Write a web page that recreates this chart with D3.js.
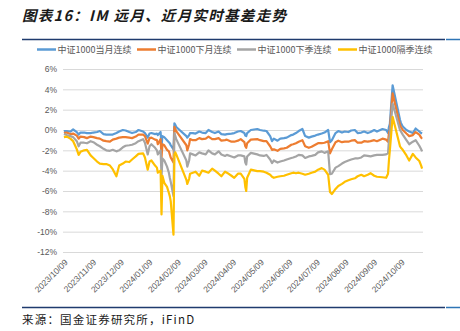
<!DOCTYPE html>
<html><head><meta charset="utf-8">
<script src="https://cdn.jsdelivr.net/npm/d3@7/dist/d3.min.js"></script>
<style>html,body{margin:0;padding:0;background:#fff;}svg{display:block;}</style>
</head><body>
<script>
const dates = ["2023-10-09","2023-10-12","2023-10-16","2023-10-19","2023-10-23","2023-10-25","2023-10-27","2023-10-31","2023-11-03","2023-11-07","2023-11-10","2023-11-14","2023-11-17","2023-11-21","2023-11-24","2023-11-28","2023-12-01","2023-12-05","2023-12-08","2023-12-12","2023-12-15","2023-12-19","2023-12-22","2023-12-26","2023-12-29","2024-01-03","2024-01-05","2024-01-08","2024-01-10","2024-01-12","2024-01-16","2024-01-18","2024-01-19","2024-01-22","2024-01-23","2024-01-24","2024-01-26","2024-01-29","2024-01-31","2024-02-01","2024-02-02","2024-02-05","2024-02-06","2024-02-07","2024-02-08","2024-02-19","2024-02-20","2024-02-22","2024-02-23","2024-02-26","2024-02-29","2024-03-04","2024-03-07","2024-03-11","2024-03-14","2024-03-18","2024-03-21","2024-03-25","2024-03-28","2024-04-01","2024-04-03","2024-04-08","2024-04-11","2024-04-15","2024-04-18","2024-04-22","2024-04-23","2024-04-24","2024-04-25","2024-04-29","2024-05-06","2024-05-09","2024-05-13","2024-05-16","2024-05-20","2024-05-22","2024-05-24","2024-05-28","2024-05-31","2024-06-04","2024-06-07","2024-06-12","2024-06-14","2024-06-17","2024-06-20","2024-06-24","2024-06-27","2024-07-01","2024-07-04","2024-07-08","2024-07-11","2024-07-15","2024-07-18","2024-07-22","2024-07-24","2024-07-26","2024-07-30","2024-08-02","2024-08-06","2024-08-09","2024-08-13","2024-08-16","2024-08-20","2024-08-23","2024-08-27","2024-08-30","2024-09-03","2024-09-06","2024-09-10","2024-09-13","2024-09-19","2024-09-23","2024-09-25","2024-09-26","2024-09-27","2024-09-30","2024-10-08","2024-10-09","2024-10-11","2024-10-15","2024-10-18","2024-10-22","2024-10-25","2024-10-29","2024-10-31","2024-11-01"];

const seriesNames = ["中证1000当月连续","中证1000下月连续","中证1000下季连续","中证1000隔季连续"];

const currentMonth = [-0.1,-0.1,-0.15,0.05,-0.2,-0.45,-0.25,-0.25,-0.3,-0.3,-0.25,-0.2,-0.1,-0.4,-0.45,-0.45,-0.45,-0.3,-0.15,0,-0.05,-0.2,-0.3,-0.2,0,-0.15,-0.3,-0.75,-0.35,-0.3,-0.4,-0.35,-0.5,-0.2,-1.6,-0.6,-0.7,-1.0,-1.2,-1.3,-1.5,-1.9,0.65,0.5,0.3,-0.6,-0.75,-0.5,-0.3,-0.3,-0.35,-0.15,-0.25,-0.3,0.0,-0.2,-0.3,-0.15,-0.4,-0.45,-0.4,-0.35,-0.3,-0.15,-0.1,-0.3,-0.55,-0.6,-0.3,0.0,0.1,0.0,-0.07,-0.1,-0.6,-1.1,-0.85,-1.05,-0.85,-0.8,-0.75,-0.5,-0.45,-0.3,-0.1,0.1,-0.6,-0.75,-0.65,-0.55,-0.45,-0.35,-0.25,0.0,-1.2,-1.0,-0.3,-0.1,-0.25,-0.15,-0.2,-0.05,0.0,-0.3,-0.25,-0.15,-0.3,-0.2,0.0,-0.15,0.1,0.0,-0.3,0.3,0.6,4.4,1.0,0.7,0.35,0.0,-0.15,-0.3,0.15,-0.15,-0.3,-0.35];

const nextMonth = [-0.3,-0.25,-0.4,-0.35,-0.55,-0.85,-0.65,-0.7,-0.8,-0.65,-0.7,-0.8,-0.85,-1.05,-1.1,-1.15,-0.95,-0.85,-0.75,-0.7,-0.7,-0.75,-0.8,-0.65,-0.45,-0.45,-0.6,-1.35,-0.8,-0.75,-0.95,-1.0,-1.4,-0.9,-2.7,-1.4,-1.5,-1.95,-2.1,-2.4,-2.7,-3.2,0.3,0.1,-0.1,-1.5,-2.0,-1.4,-0.9,-1.0,-1.0,-0.8,-0.9,-0.85,-0.65,-0.9,-0.9,-0.8,-1.05,-1.0,-0.95,-1.15,-1.15,-1.05,-0.9,-1.2,-1.6,-1.75,-1.3,-0.95,-0.9,-1.0,-1.1,-1.1,-1.6,-1.95,-1.9,-2.05,-1.85,-1.8,-1.75,-1.45,-1.4,-1.3,-1.15,-1.0,-1.6,-1.75,-1.65,-1.45,-1.3,-1.3,-1.25,-1.1,-2.3,-1.9,-1.2,-1.05,-1.2,-1.15,-1.15,-1.05,-1.0,-1.25,-1.25,-1.1,-1.15,-1.1,-1.0,-1.1,-0.85,-0.95,-1.15,-0.3,0.0,3.6,0.5,0.3,0.0,-0.35,-0.6,-0.5,-0.2,-0.45,-0.75,-0.85];

const nextQuarter = [-0.4,-0.5,-0.6,-0.7,-1.1,-1.6,-1.25,-1.25,-1.3,-1.1,-1.2,-1.45,-1.6,-1.85,-2.0,-2.05,-1.95,-2.1,-2.0,-1.7,-1.55,-1.5,-1.45,-1.3,-1.1,-0.9,-1.25,-2.4,-1.6,-1.4,-1.75,-2.0,-2.4,-2.0,-4.6,-2.8,-3.0,-3.6,-4.2,-4.7,-5.1,-6.5,-0.3,-0.6,-0.9,-3.0,-3.6,-3.0,-2.3,-2.4,-2.5,-2.2,-2.3,-2.4,-2.0,-2.3,-2.4,-2.1,-2.4,-2.55,-2.45,-2.6,-2.7,-2.5,-2.5,-2.6,-3.2,-3.4,-2.6,-2.25,-2.4,-2.5,-2.55,-2.45,-2.9,-3.25,-3.0,-3.2,-3.1,-3.0,-2.9,-2.75,-2.7,-2.6,-2.45,-2.5,-2.75,-2.6,-2.55,-2.45,-2.2,-2.1,-2.25,-2.1,-4.35,-4.3,-3.7,-3.55,-3.3,-3.15,-3.0,-2.9,-2.8,-2.8,-2.7,-2.5,-2.55,-2.6,-2.5,-2.45,-2.45,-2.4,-2.3,-1.0,-0.5,2.6,0.0,-0.15,-0.45,-1.0,-1.4,-1.15,-1.0,-1.55,-1.9,-2.1];

const farQuarter = [-0.7,-0.65,-0.85,-1.1,-1.9,-2.45,-2.15,-2.0,-1.95,-2.5,-2.75,-3.1,-3.3,-3.35,-3.35,-3.5,-3.85,-4.55,-3.5,-3.3,-3.1,-3.15,-2.9,-2.6,-2.35,-2.3,-2.7,-3.9,-3.1,-3.0,-3.5,-3.7,-4.2,-4.0,-8.3,-4.5,-5.2,-5.6,-6.2,-6.5,-7.0,-10.3,-2.4,-2.2,-2.4,-4.9,-5.3,-4.8,-4.3,-4.2,-4.1,-4.5,-4.0,-4.1,-4.2,-3.8,-4.0,-4.3,-4.55,-4.1,-4.2,-4.5,-4.7,-4.3,-4.3,-4.8,-5.6,-6.0,-4.7,-3.9,-4.05,-4.05,-4.1,-4.2,-4.4,-4.6,-4.7,-4.6,-4.55,-4.5,-4.4,-4.25,-4.2,-4.25,-4.2,-4.3,-4.4,-4.3,-4.2,-4.1,-3.9,-3.75,-3.9,-4.4,-6.1,-6.3,-5.8,-5.5,-5.3,-5.1,-4.95,-4.85,-4.75,-4.55,-4.4,-4.55,-4.4,-4.25,-4.5,-4.6,-4.65,-4.7,-4.3,-3.0,-2.0,1.3,-1.6,-1.75,-1.95,-2.5,-3.0,-2.35,-2.7,-3.05,-3.5,-3.8];

const yTicks = [6,4,2,0,-2,-4,-6,-8,-10,-12];
const xTickLabels = ["2023/10/09","2023/11/09","2023/12/09","2024/01/09","2024/02/09","2024/03/09","2024/04/09","2024/05/09","2024/06/09","2024/07/09","2024/08/09","2024/09/09","2024/10/09"];
const colors = ["#5b9bd5","#ed7d31","#a5a5a5","#ffc000"];
const titleText = "图表16：IM 远月、近月实时基差走势";
const sourceText = "来源：国金证券研究所，iFinD";

const W = 460, H = 331;
const svg = d3.select("body").append("svg").attr("width", W).attr("height", H);
svg.append("rect").attr("width", W).attr("height", H).attr("fill", "#fff");

const parse = d3.timeParse("%Y-%m-%d");
const parseTick = d3.timeParse("%Y/%m/%d");
const x = d3.scaleTime().domain([parse("2023-10-08"), parse("2024-11-02")]).range([63, 423]);
const y = d3.scaleLinear().domain([-12, 6]).range([252, 69]);

// title
svg.append("text").attr("x", 22).attr("y", 21)
  .attr("font-family", "'Noto Sans CJK SC'").attr("font-size", 14.5).attr("font-weight", "bold")
  .attr("font-style", "italic").attr("letter-spacing", 1.3).attr("fill", "#1a1a1a").text(titleText);
svg.append("line").attr("x1", 22).attr("x2", 445).attr("y1", 39.5).attr("y2", 39.5).attr("stroke", "#1f3b6e").attr("stroke-width", 1.5);
svg.append("line").attr("x1", 446).attr("x2", 460).attr("y1", 39.5).attr("y2", 39.5).attr("stroke", "#2e75b6").attr("stroke-width", 1.5);

// legend
const legX = [37, 137, 237, 338];
const leg = svg.append("g");
seriesNames.forEach((n, i) => {
  leg.append("line").attr("x1", legX[i]).attr("x2", legX[i] + 19).attr("y1", 49.5).attr("y2", 49.5)
    .attr("stroke", colors[i]).attr("stroke-width", 2.5);
  leg.append("text").attr("x", legX[i] + 20.5).attr("y", 52.8)
    .attr("font-family", "'Noto Sans CJK SC'").attr("font-size", 9).attr("fill", "#595959").text(n);
});

// grid
const yAxis = d3.axisLeft(y).tickValues(yTicks).tickSize(-(423 - 63)).tickFormat(d => d + "%");
const gy = svg.append("g").attr("transform", "translate(63,0)").call(yAxis);
gy.select(".domain").remove();
gy.selectAll(".tick line").attr("stroke", "#d9d9d9").attr("stroke-width", 1);
gy.selectAll(".tick text").attr("x", -6).attr("font-family", "Arial, 'Liberation Sans'").attr("font-size", 8.5).attr("fill", "#595959");

// x axis labels
const xAxis = d3.axisBottom(x).tickValues(xTickLabels.map(s => parseTick(s))).tickSize(0).tickFormat(d3.timeFormat("%Y/%m/%d"));
const gx = svg.append("g").attr("transform", "translate(0,252)").call(xAxis);
gx.select(".domain").remove();
gx.selectAll(".tick text").attr("font-family", "Arial, 'Liberation Sans'").attr("font-size", 8.5).attr("fill", "#595959")
  .attr("text-anchor", "end").attr("dy", 0).attr("y", 0)
  .attr("transform", "translate(4,11) rotate(-45)");

// lines
const all = [currentMonth, nextMonth, nextQuarter, farQuarter];
const line = d3.line().x((d, i) => x(parse(dates[i]))).y(d => y(d));
all.forEach((vals, i) => {
  svg.append("path").datum(vals).attr("d", line).attr("fill", "none")
    .attr("stroke", colors[i]).attr("stroke-width", 2.2).attr("stroke-linejoin", "round");
});

// bottom rule and source
svg.append("line").attr("x1", 22).attr("x2", 445).attr("y1", 307.5).attr("y2", 307.5).attr("stroke", "#1f3b6e").attr("stroke-width", 1.5);
svg.append("line").attr("x1", 446).attr("x2", 460).attr("y1", 307.5).attr("y2", 307.5).attr("stroke", "#2e75b6").attr("stroke-width", 1.5);
svg.append("text").attr("x", 22).attr("y", 324)
  .attr("font-family", "'Noto Sans CJK SC'").attr("font-size", 11.5).attr("letter-spacing", 1.2).attr("fill", "#1a1a1a").text(sourceText);
</script>
</body></html>
